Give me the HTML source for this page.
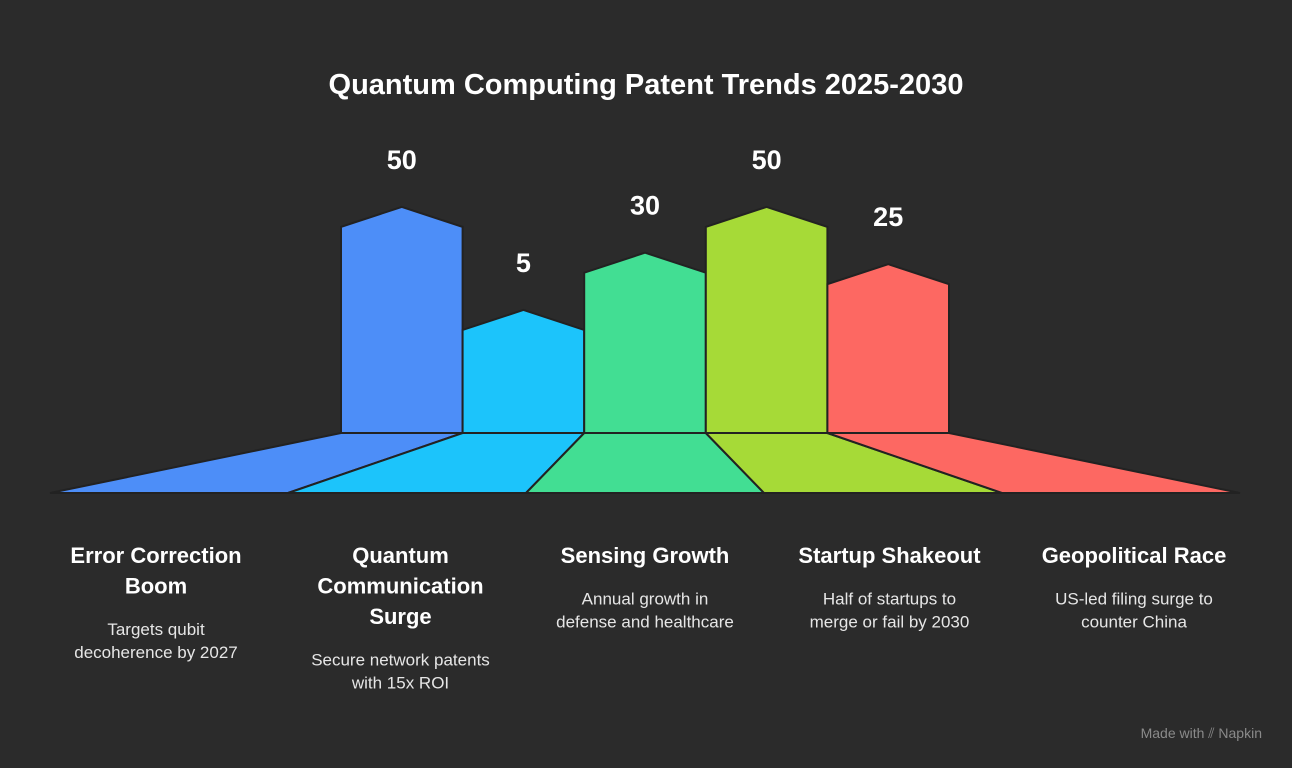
<!DOCTYPE html>
<html><head><meta charset="utf-8">
<style>
html,body{margin:0;padding:0;background:#2b2b2b;}
svg{display:block;font-family:"Liberation Sans",Arial,sans-serif;}
</style></head>
<body>
<svg id="chart" width="1292" height="768" viewBox="0 0 1292 768" xmlns="http://www.w3.org/2000/svg">
<rect width="1292" height="768" fill="#2b2b2b"/>
<text x="646" y="94" text-anchor="middle" font-size="29" font-weight="bold" fill="#ffffff">Quantum Computing Patent Trends 2025-2030</text>
<g id="floors"></g>
<g id="bars"></g>
<g id="labels"></g>
<g id="texts"></g>
<text x="1262" y="738" text-anchor="end" font-size="14" fill="#8a8a8a">Made with ⫽ Napkin</text>
</svg>
<script>
const categories = ["Error Correction Boom","Quantum Communication Surge","Sensing Growth","Startup Shakeout","Geopolitical Race"];
const values = [50,5,30,50,25];
const valueLabels = ["50","5","30","50","25"];
const titleLines = [["Error Correction","Boom"],["Quantum","Communication","Surge"],["Sensing Growth"],["Startup Shakeout"],["Geopolitical Race"]];
const descLines = [["Targets qubit","decoherence by 2027"],["Secure network patents","with 15x ROI"],["Annual growth in","defense and healthcare"],["Half of startups to","merge or fail by 2030"],["US-led filing surge to","counter China"]];
const colors = ["#4d8ef8","#1cc4fb","#42de93","#a6da37","#fd6862"];

const NS = "http://www.w3.org/2000/svg";
const baseY = 433, floorY = 493;
const barX0 = 341, barW = 121.6;
const floorX0 = 50, floorW = 238;
function yScale(v){ return baseY - (91.6 + 2.29 * v); }
function barLeft(i){ return barX0 + i * barW; }
function floorLeft(i){ return floorX0 + i * floorW; }

const fG = document.getElementById('floors');
const bG = document.getElementById('bars');
const lG = document.getElementById('labels');
const tG = document.getElementById('texts');

values.forEach((v, i) => {
  const l = barLeft(i), r = l + barW, fl = floorLeft(i), fr = fl + floorW;
  const floor = document.createElementNS(NS, 'polygon');
  floor.setAttribute('points', `${l},${baseY} ${r},${baseY} ${fr},${floorY} ${fl},${floorY}`);
  floor.setAttribute('fill', colors[i]);
  floor.setAttribute('stroke', '#222');
  floor.setAttribute('stroke-width', '2');
  
  
  fG.appendChild(floor);

  const sy = yScale(v), py = sy - 20;
  const bar = document.createElementNS(NS, 'polygon');
  bar.setAttribute('points', `${l},${baseY} ${l},${sy} ${(l + r) / 2},${py} ${r},${sy} ${r},${baseY}`);
  bar.setAttribute('fill', colors[i]);
  bar.setAttribute('stroke', '#222');
  bar.setAttribute('stroke-width', '2');
  
  
  bG.appendChild(bar);

  const lab = document.createElementNS(NS, 'text');
  lab.setAttribute('x', (l + r) / 2);
  lab.setAttribute('y', py - 38);
  lab.setAttribute('text-anchor', 'middle');
  lab.setAttribute('font-size', '27');
  lab.setAttribute('font-weight', 'bold');
  lab.setAttribute('fill', '#fff');
  lab.textContent = valueLabels[i];
  
  
  lG.appendChild(lab);

  const cx = fl + floorW / 2 - 13 + i * 6.5;
  let y = 563;
  titleLines[i].forEach(t => {
    const tt = document.createElementNS(NS, 'text');
    tt.setAttribute('x', cx); tt.setAttribute('y', y);
    tt.setAttribute('text-anchor', 'middle');
    tt.setAttribute('font-size', '22');
    tt.setAttribute('font-weight', 'bold');
    tt.setAttribute('fill', '#fff');
    tt.textContent = t;
    
    
    tG.appendChild(tt);
    y += 30.5;
  });
  y += 11;
  descLines[i].forEach(t => {
    const dt = document.createElementNS(NS, 'text');
    dt.setAttribute('x', cx); dt.setAttribute('y', y);
    dt.setAttribute('text-anchor', 'middle');
    dt.setAttribute('font-size', '17');
    dt.setAttribute('fill', '#e6e6e6');
    dt.textContent = t;
    
    
    tG.appendChild(dt);
    y += 23;
  });
});
</script>
</body></html>
